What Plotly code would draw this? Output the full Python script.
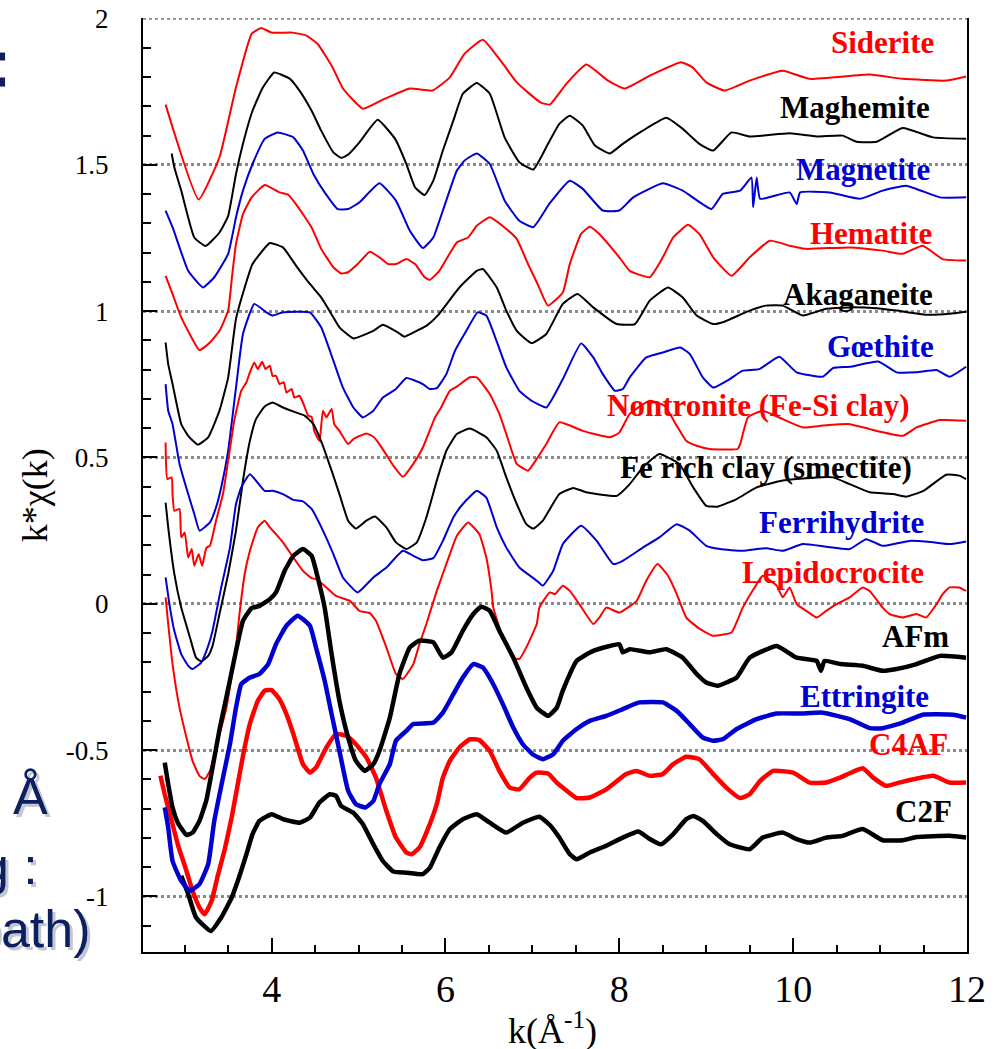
import plotly.graph_objects as go

# ---------------- data (k in 1/Angstrom, k*chi(k) with vertical offsets as plotted) ----------------
k_siderite = [2.78, 3.16, 3.40, 3.59, 3.77, 3.88, 4.00, 4.24, 4.40, 4.53, 4.70, 4.82, 5.05, 5.28, 5.59, 5.85, 6.05, 6.22, 6.43, 6.66,
              6.82, 7.09, 7.20, 7.39, 7.62, 7.87, 8.06, 8.35, 8.71, 8.84, 9.00, 9.21, 9.50, 9.88, 10.19, 10.88, 11.26, 11.76, 11.99]
chi_siderite = [1.706, 1.382, 1.526, 1.765, 1.948, 1.968, 1.952, 1.952, 1.942, 1.913, 1.834, 1.761, 1.692, 1.723, 1.761, 1.754, 1.799, 1.880, 1.928, 1.846,
                1.782, 1.714, 1.706, 1.777, 1.843, 1.788, 1.761, 1.805, 1.851, 1.834, 1.782, 1.754, 1.788, 1.822, 1.794, 1.809, 1.794, 1.788, 1.802]

k_maghemite = [2.85, 2.88, 2.96, 3.11, 3.24, 3.40, 3.50, 3.59, 3.67, 3.78, 3.90, 4.03, 4.21, 4.32, 4.46, 4.57, 4.71, 4.80, 4.88, 5.01,
               5.22, 5.42, 5.55, 5.65, 5.76, 5.86, 5.97, 6.09, 6.20, 6.36, 6.51, 6.68, 6.85, 7.01, 7.18, 7.31, 7.43, 7.58, 7.72, 7.89,
               8.04, 8.27, 8.54, 8.73, 8.92, 9.08, 9.29, 9.50, 9.96, 10.27, 10.57, 10.73, 10.96, 11.26, 11.61, 11.99]
chi_maghemite = [1.539, 1.492, 1.412, 1.252, 1.223, 1.269, 1.326, 1.469, 1.572, 1.685, 1.765, 1.816, 1.794, 1.754, 1.685, 1.617, 1.543, 1.524, 1.535, 1.577,
                 1.654, 1.589, 1.503, 1.423, 1.397, 1.446, 1.549, 1.651, 1.743, 1.780, 1.743, 1.594, 1.509, 1.484, 1.572, 1.640, 1.668, 1.634, 1.566, 1.539,
                 1.572, 1.617, 1.661, 1.623, 1.572, 1.549, 1.611, 1.597, 1.608, 1.597, 1.600, 1.579, 1.579, 1.626, 1.594, 1.589]

k_magnetite = [2.78, 2.86, 3.04, 3.21, 3.34, 3.50, 3.59, 3.67, 3.78, 3.92, 4.07, 4.25, 4.36, 4.48, 4.61, 4.76, 4.88, 5.01, 5.24, 5.43,
               5.59, 5.74, 5.86, 5.97, 6.13, 6.22, 6.36, 6.51, 6.68, 6.85, 7.01, 7.20, 7.43, 7.58, 7.81, 8.00, 8.16, 8.50, 8.73, 9.06,
               9.19, 9.39, 9.52, 9.54, 9.58, 9.62, 9.96, 10.04, 10.08, 10.42, 10.77, 11.03, 11.30, 11.69, 11.99]
chi_magnetite = [1.344, 1.287, 1.138, 1.081, 1.116, 1.196, 1.321, 1.412, 1.503, 1.589, 1.611, 1.594, 1.549, 1.469, 1.406, 1.349, 1.349, 1.372, 1.437, 1.378,
                 1.275, 1.216, 1.252, 1.344, 1.480, 1.515, 1.539, 1.503, 1.378, 1.309, 1.287, 1.369, 1.446, 1.418, 1.344, 1.344, 1.389, 1.437, 1.412, 1.349,
                 1.401, 1.412, 1.457, 1.355, 1.457, 1.384, 1.406, 1.366, 1.406, 1.406, 1.384, 1.412, 1.429, 1.389, 1.389]

k_hematite = [2.78, 2.86, 2.96, 3.17, 3.29, 3.40, 3.50, 3.545, 3.59, 3.67, 3.77, 3.92, 4.09, 4.19, 4.28, 4.46, 4.57, 4.71, 4.80, 4.88, 4.99,
              5.13, 5.24, 5.34, 5.43, 5.55, 5.65, 5.76, 5.82, 5.93, 6.13, 6.26, 6.36, 6.51, 6.70, 6.82, 6.95, 7.06, 7.18, 7.35, 7.43,
              7.56, 7.66, 7.77, 8.00, 8.12, 8.35, 8.50, 8.62, 8.79, 8.92, 9.08, 9.29, 9.50, 9.73, 9.96, 10.15, 10.65, 11.03, 11.26, 11.49,
              11.72, 11.99]
chi_hematite = [1.121, 1.059, 0.979, 0.867, 0.893, 0.933, 1.002, 1.121, 1.230, 1.332, 1.389, 1.431, 1.406, 1.398, 1.366, 1.286, 1.213, 1.150, 1.129, 1.133, 1.161,
                1.203, 1.184, 1.161, 1.161, 1.178, 1.161, 1.116, 1.107, 1.138, 1.235, 1.252, 1.292, 1.321, 1.281, 1.247, 1.161, 1.093, 1.019, 1.064, 1.161,
                1.264, 1.289, 1.264, 1.184, 1.138, 1.116, 1.184, 1.252, 1.295, 1.264, 1.184, 1.121, 1.184, 1.241, 1.224, 1.213, 1.218, 1.207, 1.196, 1.224,
                1.178, 1.173]

k_akaganeite = [2.78, 2.81, 2.86, 2.96, 3.04, 3.15, 3.27, 3.40, 3.50, 3.59, 3.69, 3.78, 3.98, 4.13, 4.28, 4.44, 4.57, 4.71, 4.78, 4.94,
                5.17, 5.28, 5.45, 5.53, 5.67, 5.78, 5.91, 6.16, 6.36, 6.43, 6.59, 6.70, 6.82, 6.99, 7.16, 7.35, 7.52, 7.70, 7.97, 8.18,
                8.35, 8.56, 8.73, 8.89, 9.08, 9.19, 9.50, 9.69, 9.88, 10.11, 10.38, 10.65, 10.96, 11.19, 11.53, 11.80, 11.99]
chi_akaganeite = [0.893, 0.819, 0.751, 0.614, 0.574, 0.544, 0.569, 0.660, 0.774, 0.974, 1.081, 1.161, 1.233, 1.218, 1.156, 1.093, 1.047, 0.979, 0.945, 0.907,
                  0.933, 0.954, 0.928, 0.913, 0.933, 0.950, 0.985, 1.081, 1.138, 1.144, 1.081, 1.002, 0.933, 0.891, 0.922, 1.025, 1.059, 1.013, 0.956, 0.956,
                  1.036, 1.081, 1.047, 0.985, 0.956, 0.962, 1.002, 1.019, 1.019, 0.985, 1.008, 1.013, 1.010, 1.002, 0.988, 0.991, 0.998]

k_goethite = [2.78, 2.81, 2.86, 2.94, 3.04, 3.11, 3.17, 3.29, 3.36, 3.42, 3.50, 3.59, 3.67, 3.80, 3.94, 4.01, 4.13, 4.44, 4.57, 4.71,
              4.82, 4.94, 5.05, 5.17, 5.28, 5.43, 5.55, 5.74, 5.82, 5.90, 6.01, 6.11, 6.24, 6.37, 6.47, 6.60, 6.70, 6.85, 6.99, 7.16,
              7.35, 7.56, 7.70, 7.81, 7.95, 8.04, 8.12, 8.31, 8.50, 8.70, 8.81, 8.96, 9.08, 9.27, 9.42, 9.61, 9.84, 10.04, 10.34, 10.46,
              10.65, 10.98, 11.19, 11.42, 11.65, 11.80, 11.99]
chi_goethite = [0.751, 0.660, 0.614, 0.478, 0.375, 0.307, 0.250, 0.278, 0.329, 0.398, 0.523, 0.739, 0.922, 1.025, 0.996, 0.985, 0.996, 0.996, 0.945, 0.831,
                0.739, 0.671, 0.637, 0.660, 0.705, 0.734, 0.772, 0.751, 0.734, 0.737, 0.785, 0.865, 0.933, 0.996, 0.985, 0.888, 0.808, 0.728, 0.694, 0.671,
                0.768, 0.890, 0.842, 0.785, 0.728, 0.734, 0.774, 0.842, 0.859, 0.876, 0.854, 0.774, 0.739, 0.768, 0.797, 0.802, 0.844, 0.791, 0.776, 0.806,
                0.810, 0.828, 0.791, 0.791, 0.799, 0.776, 0.810]

k_nontronite = [2.78, 2.80, 2.85, 2.86, 2.88, 2.94, 2.96, 3.00, 3.04, 3.08, 3.11, 3.16, 3.20, 3.25, 3.29, 3.36, 3.44, 3.50, 3.57, 3.65,
                3.71, 3.75, 3.80, 3.84, 3.89, 3.93, 3.98, 4.01, 4.05, 4.09, 4.14, 4.17, 4.23, 4.26, 4.32, 4.36, 4.42, 4.46, 4.49, 4.55,
                4.59, 4.63, 4.69, 4.72, 4.78, 4.88, 4.94, 5.09, 5.17, 5.24, 5.34, 5.40, 5.51, 5.63, 5.74, 5.88, 5.95, 6.05, 6.13, 6.28,
                6.36, 6.51, 6.62, 6.70, 6.82, 6.95, 7.06, 7.16, 7.31, 7.58, 7.89, 8.00, 8.12, 8.35, 8.52, 8.66, 8.77, 8.89, 9.04, 9.36,
                9.39, 9.48, 9.65, 9.88, 10.11, 10.34, 10.65, 10.88, 11.26, 11.42, 11.69, 11.99]
chi_nontronite = [0.551, 0.426, 0.432, 0.375, 0.318, 0.324, 0.227, 0.244, 0.158, 0.187, 0.130, 0.170, 0.130, 0.192, 0.198, 0.284, 0.375, 0.489, 0.626, 0.728,
                  0.757, 0.791, 0.825, 0.802, 0.827, 0.802, 0.814, 0.779, 0.779, 0.751, 0.757, 0.722, 0.734, 0.705, 0.711, 0.688, 0.643, 0.639, 0.591, 0.557,
                  0.660, 0.637, 0.666, 0.614, 0.591, 0.546, 0.563, 0.582, 0.571, 0.546, 0.500, 0.472, 0.434, 0.478, 0.534, 0.637, 0.671, 0.728, 0.742, 0.774,
                  0.774, 0.717, 0.649, 0.580, 0.478, 0.455, 0.500, 0.546, 0.620, 0.591, 0.569, 0.585, 0.649, 0.694, 0.677, 0.609, 0.557, 0.540, 0.529, 0.529,
                  0.546, 0.637, 0.660, 0.631, 0.603, 0.609, 0.614, 0.597, 0.574, 0.603, 0.628, 0.626]

k_fe_clay = [2.78, 2.81, 2.88, 2.96, 3.06, 3.13, 3.19, 3.27, 3.32, 3.40, 3.50, 3.59, 3.67, 3.75, 3.82, 3.92, 4.01, 4.13, 4.28, 4.38,
             4.48, 4.59, 4.69, 4.78, 4.88, 4.97, 5.09, 5.19, 5.32, 5.43, 5.55, 5.67, 5.78, 5.90, 6.01, 6.13, 6.28, 6.47, 6.59, 6.70,
             6.82, 6.93, 7.01, 7.12, 7.31, 7.47, 7.62, 7.97, 8.12, 8.27, 8.46, 8.69, 8.85, 9.00, 9.13, 9.35, 9.58, 9.88, 10.27, 10.46,
             10.65, 10.88, 11.15, 11.30, 11.50, 11.76, 11.91, 11.99]
chi_fe_clay = [0.346, 0.261, 0.103, -0.013, -0.115, -0.184, -0.197, -0.178, -0.144, -0.035, 0.102, 0.250, 0.421, 0.557, 0.631, 0.674, 0.688, 0.671, 0.654, 0.643,
               0.614, 0.540, 0.455, 0.375, 0.284, 0.257, 0.284, 0.298, 0.261, 0.210, 0.187, 0.210, 0.295, 0.421, 0.523, 0.580, 0.599, 0.569, 0.523, 0.432,
               0.341, 0.272, 0.257, 0.284, 0.375, 0.396, 0.381, 0.369, 0.409, 0.466, 0.512, 0.478, 0.398, 0.335, 0.332, 0.358, 0.398, 0.421, 0.432, 0.432,
               0.409, 0.381, 0.375, 0.366, 0.386, 0.441, 0.438, 0.426]

k_ferrihydrite = [2.78, 2.83, 2.88, 2.96, 3.04, 3.09, 3.19, 3.27, 3.32, 3.42, 3.52, 3.59, 3.65, 3.75, 3.92, 4.01, 4.13, 4.25, 4.36, 4.46,
                  4.59, 4.71, 4.82, 4.99, 5.17, 5.32, 5.51, 5.63, 5.74, 5.86, 5.97, 6.09, 6.20, 6.36, 6.47, 6.59, 6.70, 6.85, 7.05, 7.12,
                  7.24, 7.35, 7.56, 7.74, 7.93, 8.04, 8.27, 8.46, 8.66, 8.81, 9.00, 9.16, 9.42, 9.69, 9.88, 10.11, 10.38, 10.65, 10.84, 11.03,
                  11.34, 11.61, 11.80, 11.99]
chi_ferrihydrite = [0.090, -0.013, -0.092, -0.172, -0.212, -0.223, -0.201, -0.144, -0.092, 0.056, 0.192, 0.341, 0.398, 0.443, 0.386, 0.386, 0.375, 0.355, 0.350, 0.324,
                    0.250, 0.170, 0.090, 0.039, 0.090, 0.124, 0.181, 0.164, 0.149, 0.156, 0.215, 0.295, 0.341, 0.386, 0.363, 0.261, 0.192, 0.124, 0.079, 0.062,
                    0.113, 0.204, 0.267, 0.215, 0.136, 0.147, 0.192, 0.227, 0.272, 0.250, 0.198, 0.187, 0.181, 0.190, 0.181, 0.204, 0.195, 0.187, 0.221, 0.198,
                    0.215, 0.210, 0.204, 0.213]

k_lepidocrocite = [2.78, 2.81, 2.86, 2.94, 3.02, 3.09, 3.17, 3.23, 3.29, 3.36, 3.48, 3.59, 3.63, 3.69, 3.75, 3.84, 3.92, 3.98, 4.05, 4.13,
                   4.25, 4.36, 4.46, 4.51, 4.63, 4.74, 4.90, 5.01, 5.13, 5.20, 5.32, 5.43, 5.51, 5.63, 5.70, 5.78, 5.90, 6.01, 6.13, 6.26,
                   6.39, 6.47, 6.53, 6.55, 6.66, 6.78, 6.85, 6.93, 7.05, 7.08, 7.20, 7.26, 7.35, 7.43, 7.54, 7.70, 7.77, 7.85, 8.00, 8.20,
                   8.31, 8.44, 8.56, 8.66, 8.77, 8.92, 9.07, 9.29, 9.42, 9.58, 9.65, 9.81, 9.88, 9.96, 10.04, 10.15, 10.27, 10.38, 10.50, 10.65,
                   10.80, 10.88, 11.03, 11.11, 11.26, 11.42, 11.53, 11.65, 11.72, 11.80, 11.91, 11.99]
chi_lepidocrocite = [0.022, -0.069, -0.206, -0.355, -0.457, -0.537, -0.588, -0.599, -0.571, -0.491, -0.355, -0.149, -0.035, 0.102, 0.181, 0.261, 0.284, 0.261, 0.238, 0.210,
                     0.158, 0.113, 0.088, 0.084, 0.056, 0.027, 0.010, -0.024, -0.032, -0.058, -0.149, -0.240, -0.257, -0.206, -0.138, -0.069, 0.044, 0.136, 0.232, 0.278,
                     0.238, 0.158, 0.044, -0.013, -0.115, -0.184, -0.189, -0.149, -0.069, -0.013, 0.039, 0.033, 0.062, 0.044, -0.001, -0.069, -0.047, -0.013, -0.030, 0.010,
                     0.079, 0.136, 0.096, 0.034, -0.047, -0.085, -0.109, -0.098, -0.013, 0.067, 0.096, 0.062, 0.022, 0.056, -0.001, -0.024, -0.047, -0.024, -0.001, 0.022,
                     0.056, 0.044, -0.013, -0.035, -0.047, -0.035, -0.047, -0.001, 0.033, 0.056, 0.056, 0.044]

k_afm = [2.77, 2.81, 2.86, 2.92, 3.02, 3.09, 3.17, 3.25, 3.32, 3.40, 3.50, 3.59, 3.67, 3.77, 3.86, 3.98, 4.05, 4.15, 4.25, 4.36,
         4.46, 4.53, 4.61, 4.69, 4.78, 4.88, 4.97, 5.07, 5.17, 5.24, 5.36, 5.47, 5.59, 5.70, 5.86, 5.97, 6.07, 6.20, 6.32, 6.41,
         6.51, 6.62, 6.78, 6.93, 7.05, 7.18, 7.28, 7.35, 7.51, 7.70, 8.00, 8.04, 8.12, 8.35, 8.54, 8.73, 8.89, 9.00, 9.13, 9.35,
         9.50, 9.81, 10.04, 10.27, 10.32, 10.36, 10.54, 10.80, 11.03, 11.19, 11.42, 11.69, 11.99]
chi_afm = [-0.543, -0.616, -0.696, -0.748, -0.790, -0.782, -0.742, -0.670, -0.560, -0.430, -0.290, -0.161, -0.058, -0.015, -0.007, 0.016, 0.039, 0.113, 0.164, 0.187,
           0.164, 0.090, -0.013, -0.172, -0.332, -0.457, -0.537, -0.571, -0.548, -0.503, -0.389, -0.240, -0.149, -0.126, -0.132, -0.184, -0.166, -0.092, -0.035, -0.010,
           -0.024, -0.092, -0.184, -0.286, -0.355, -0.383, -0.355, -0.297, -0.195, -0.161, -0.138, -0.166, -0.155, -0.166, -0.155, -0.184, -0.240, -0.269, -0.280, -0.252,
           -0.184, -0.144, -0.184, -0.195, -0.229, -0.195, -0.206, -0.212, -0.229, -0.223, -0.206, -0.178, -0.184]

k_ettringite = [2.77, 2.81, 2.86, 2.96, 3.06, 3.17, 3.27, 3.34, 3.44, 3.52, 3.59, 3.65, 3.75, 3.86, 3.96, 4.05, 4.17, 4.30, 4.44, 4.51,
                4.61, 4.69, 4.78, 4.88, 4.97, 5.08, 5.17, 5.24, 5.36, 5.43, 5.55, 5.63, 5.86, 5.97, 6.09, 6.20, 6.32, 6.43, 6.55, 6.66,
                6.78, 6.89, 7.01, 7.12, 7.24, 7.35, 7.51, 7.66, 7.85, 8.04, 8.23, 8.50, 8.66, 8.81, 8.96, 9.08, 9.19, 9.35, 9.58, 9.81,
                10.08, 10.34, 10.65, 10.88, 11.03, 11.26, 11.49, 11.84, 11.99]
chi_ettringite = [-0.696, -0.765, -0.879, -0.947, -0.981, -0.958, -0.890, -0.742, -0.594, -0.480, -0.355, -0.275, -0.252, -0.240, -0.206, -0.138, -0.075, -0.041, -0.075, -0.149,
                  -0.263, -0.377, -0.503, -0.639, -0.685, -0.696, -0.674, -0.616, -0.548, -0.468, -0.434, -0.411, -0.406, -0.372, -0.309, -0.252, -0.206, -0.218, -0.275, -0.343,
                  -0.423, -0.480, -0.516, -0.531, -0.514, -0.468, -0.428, -0.400, -0.383, -0.360, -0.337, -0.337, -0.366, -0.411, -0.457, -0.468, -0.463, -0.428, -0.394, -0.375,
                  -0.375, -0.372, -0.394, -0.425, -0.425, -0.406, -0.379, -0.379, -0.389]

k_c4af = [2.72, 2.77, 2.85, 2.92, 3.02, 3.09, 3.17, 3.23, 3.31, 3.38, 3.46, 3.54, 3.59, 3.67, 3.75, 3.84, 3.92, 4.00, 4.09, 4.17,
          4.25, 4.36, 4.44, 4.51, 4.63, 4.74, 4.86, 4.97, 5.09, 5.20, 5.32, 5.43, 5.55, 5.61, 5.70, 5.82, 5.90, 5.97, 6.05, 6.16,
          6.28, 6.39, 6.51, 6.62, 6.74, 6.85, 6.97, 7.05, 7.18, 7.28, 7.35, 7.51, 7.66, 7.85, 8.08, 8.20, 8.35, 8.50, 8.62, 8.77,
          8.92, 9.08, 9.23, 9.39, 9.50, 9.62, 9.77, 10.00, 10.19, 10.38, 10.54, 10.80, 10.92, 11.07, 11.22, 11.61, 11.80, 11.99]
chi_c4af = [-0.588, -0.651, -0.742, -0.822, -0.913, -0.981, -1.038, -1.061, -1.015, -0.930, -0.840, -0.730, -0.650, -0.520, -0.410, -0.332, -0.297, -0.295, -0.326, -0.377,
            -0.445, -0.548, -0.577, -0.560, -0.491, -0.445, -0.451, -0.480, -0.525, -0.594, -0.708, -0.799, -0.850, -0.856, -0.833, -0.753, -0.685, -0.594, -0.537, -0.491,
            -0.463, -0.466, -0.503, -0.571, -0.628, -0.634, -0.594, -0.577, -0.580, -0.611, -0.628, -0.664, -0.662, -0.634, -0.582, -0.571, -0.588, -0.582, -0.548, -0.523,
            -0.531, -0.582, -0.628, -0.664, -0.651, -0.605, -0.571, -0.577, -0.611, -0.611, -0.594, -0.562, -0.594, -0.622, -0.611, -0.588, -0.611, -0.611]

k_c2f = [2.96, 3.04, 3.13, 3.30, 3.42, 3.54, 3.63, 3.71, 3.78, 3.86, 4.00, 4.13, 4.32, 4.44, 4.55, 4.67, 4.74, 4.80, 4.94, 5.05,
         5.17, 5.28, 5.40, 5.55, 5.74, 5.82, 5.93, 6.05, 6.20, 6.36, 6.51, 6.70, 6.89, 7.08, 7.20, 7.31, 7.43, 7.51, 7.66, 7.85,
         8.04, 8.22, 8.35, 8.48, 8.62, 8.77, 8.85, 8.96, 9.12, 9.27, 9.50, 9.65, 9.88, 10.04, 10.19, 10.38, 10.57, 10.80, 11.03, 11.26,
         11.42, 11.80, 11.99]
chi_c2f = [-0.930, -0.992, -1.072, -1.118, -1.072, -1.004, -0.930, -0.856, -0.787, -0.742, -0.719, -0.736, -0.748, -0.731, -0.679, -0.651, -0.656, -0.691, -0.714, -0.753,
           -0.822, -0.879, -0.915, -0.919, -0.924, -0.902, -0.833, -0.770, -0.736, -0.719, -0.748, -0.782, -0.748, -0.728, -0.756, -0.799, -0.856, -0.873, -0.850, -0.827,
           -0.799, -0.778, -0.804, -0.822, -0.787, -0.736, -0.725, -0.742, -0.787, -0.822, -0.839, -0.799, -0.782, -0.804, -0.816, -0.799, -0.793, -0.770, -0.808, -0.808,
           -0.797, -0.793, -0.799]

names = ["Siderite", "Maghemite", "Magnetite", "Hematite", "Akaganeite", "Gœthite",
         "Nontronite (Fe-Si clay)", "Fe rich clay (smectite)", "Ferrihydrite", "Lepidocrocite",
         "AFm", "Ettringite", "C4AF", "C2F"]

y_tick_vals = [-1, -0.5, 0, 0.5, 1, 1.5, 2]
y_tick_text = ["-1", "-0.5", "0", "0.5", "1", "1.5", "2"]
x_tick_vals = [4, 6, 8, 10, 12]
x_tick_text = ["4", "6", "8", "10", "12"]
y_top = 2.0

# ---------------- styling ----------------
RED = "#ff0000"
BLUE = "#0000d0"
BLACK = "#000000"
NAVY = "#0c1f5e"
GRID = "#8a8a8a"
SERIF = "Liberation Serif, Times New Roman, serif"
SANS = "Liberation Sans, Arial, sans-serif"

series = [
    (names[0], k_siderite, chi_siderite, RED, 2),
    (names[1], k_maghemite, chi_maghemite, BLACK, 2),
    (names[2], k_magnetite, chi_magnetite, BLUE, 2),
    (names[3], k_hematite, chi_hematite, RED, 2),
    (names[4], k_akaganeite, chi_akaganeite, BLACK, 2),
    (names[5], k_goethite, chi_goethite, BLUE, 2),
    (names[6], k_nontronite, chi_nontronite, RED, 2),
    (names[7], k_fe_clay, chi_fe_clay, BLACK, 2),
    (names[8], k_ferrihydrite, chi_ferrihydrite, BLUE, 2),
    (names[9], k_lepidocrocite, chi_lepidocrocite, RED, 2),
    (names[13], k_c2f, chi_c2f, BLACK, 4.5),
    (names[12], k_c4af, chi_c4af, RED, 4.5),
    (names[11], k_ettringite, chi_ettringite, BLUE, 4.5),
    (names[10], k_afm, chi_afm, BLACK, 4.5),
]

label_colors = [RED, BLACK, BLUE, RED, BLACK, BLUE, RED, BLACK, BLUE, RED, BLACK, BLUE, RED, BLACK]
label_x = [11.646, 11.60, 11.60, 11.62, 11.635, 11.646, 11.359, 11.394, 11.53, 11.53, 11.82, 11.59, 11.80, 11.85]
label_y = [1.918, 1.697, 1.484, 1.267, 1.056, 0.879, 0.677, 0.465, 0.279, 0.106, -0.113, -0.316, -0.481, -0.709]

fig = go.Figure()
for name, k, chi, color, width in series:
    fig.add_trace(go.Scatter(
        x=k, y=chi, mode="lines", name=name, showlegend=False, hoverinfo="skip",
        line=dict(color=color, width=width, shape="spline", smoothing=0.4),
    ))

annotations = []
for txt, col, lx, ly in zip(names, label_colors, label_x, label_y):
    annotations.append(dict(
        x=lx, y=ly, xref="x", yref="y", text="<b>" + txt + "</b>", showarrow=False,
        xanchor="right", yanchor="middle", font=dict(family=SERIF, size=31, color=col),
    ))

# axis titles
annotations.append(dict(x=-0.131, y=0.489, xref="paper", yref="paper", text="k*χ(k)",
                        textangle=-90, showarrow=False, xanchor="center", yanchor="middle",
                        font=dict(family=SERIF, size=36, color="black")))
annotations.append(dict(x=0.4964, y=-0.0814, xref="paper", yref="paper", text="k(Å<sup>-1</sup>)",
                        showarrow=False, xanchor="center", yanchor="middle",
                        font=dict(family=SERIF, size=36, color="black")))

# cropped slide text at the left edge (with soft shadow)
side_texts = [("Å", -0.1371, 0.1338, "center"), ("g :", -0.125, 0.0590, "right"), ("path)", -0.0607, -0.0085, "right")]
for txt, sx, sy, anc in side_texts:
    annotations.append(dict(x=sx, y=sy, xref="paper", yref="paper", text=txt, showarrow=False,
                            xanchor=anc, yanchor="bottom", xshift=3, yshift=-3,
                            font=dict(family=SANS, size=52, color="#c4c6d0")))
    annotations.append(dict(x=sx, y=sy, xref="paper", yref="paper", text=txt, showarrow=False,
                            xanchor=anc, yanchor="bottom",
                            font=dict(family=SANS, size=52, color=NAVY)))

shapes = [
    # dotted gridline along the top value of the axis (plotly drops the edge gridline)
    dict(type="line", xref="paper", yref="y", x0=0, x1=1, y0=y_top, y1=y_top,
         line=dict(color=GRID, width=2.5, dash="dot"), layer="below"),
    dict(type="rect", xref="paper", yref="paper", x0=-0.1740, x1=-0.1674, y0=0.9545, y1=0.9630,
         fillcolor=NAVY, line=dict(width=0)),
    dict(type="rect", xref="paper", yref="paper", x0=-0.1740, x1=-0.1674, y0=0.9266, y1=0.9363,
         fillcolor=NAVY, line=dict(width=0)),
]

fig.update_layout(
    width=1007, height=1049,
    margin=dict(l=143, r=40, t=18, b=97, autoexpand=False),
    paper_bgcolor="white", plot_bgcolor="white",
    showlegend=False,
    annotations=annotations,
    shapes=shapes,
    xaxis=dict(
        range=[2.52, 12.0], showline=True, linecolor="black", linewidth=2, mirror=False,
        ticks="inside", ticklen=14, tickwidth=2, tickcolor="black",
        tickvals=x_tick_vals, ticktext=x_tick_text,
        minor=dict(dtick=0.5, tick0=0, ticks="inside", ticklen=7, tickwidth=2, tickcolor="black"),
        showgrid=False, zeroline=False, automargin=False,
        tickfont=dict(family=SERIF, size=38, color="black"),
        ticklabelstandoff=2,
    ),
    yaxis=dict(
        range=[-1.19, 2.002], showline=True, linecolor="black", linewidth=2, mirror=True,
        ticks="inside", ticklen=14, tickwidth=2, tickcolor="black",
        tickvals=y_tick_vals, ticktext=y_tick_text,
        minor=dict(dtick=0.1, tick0=0, ticks="inside", ticklen=8, tickwidth=2, tickcolor="black"),
        showgrid=True, gridcolor=GRID, gridwidth=2.5, griddash="dot",
        zeroline=False, automargin=False,
        tickfont=dict(family=SERIF, size=27, color="black"),
        ticklabelstandoff=27,
    ),
)

fig.write_html("out.html", config={"displayModeBar": False},
               post_script="document.body.style.margin='0';document.body.style.overflow='hidden';")
